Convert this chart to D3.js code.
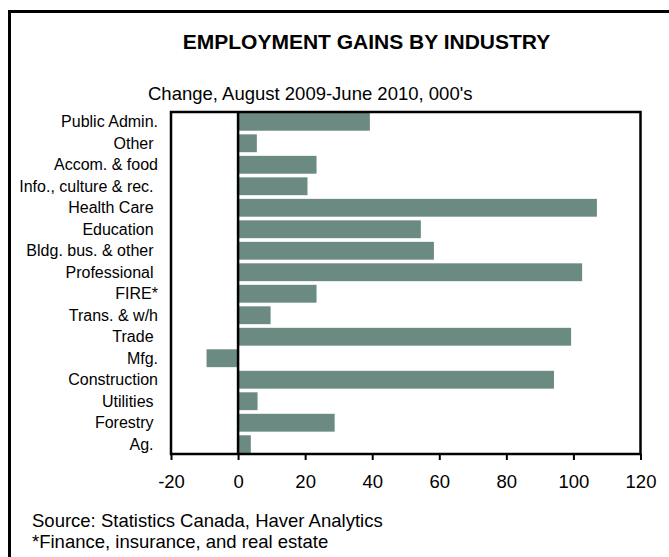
<meta charset="utf-8">
<script src="https://cdnjs.cloudflare.com/ajax/libs/d3/7.8.5/d3.min.js"></script>
<style>
body {margin: 0; background: #fff;}
* {font-family: "Liberation Sans", Arial;}
</style>
<div id="chart"></div>
<script type="text/javascript">
// chart data
var categories = ["Public Admin.", "Other ", "Accom. & food", "Info., culture & rec. ", "Health Care ", "Education ",
	"Bldg. bus. & other ", "Professional ", "FIRE*", "Trans. & w/h", "Trade ", "Mfg.", "Construction",
	"Utilities ", "Forestry ", "Ag. "];
var values = [39.3, 5.6, 23.4, 20.7, 107, 54.5, 58.4, 102.6, 23.4, 9.7, 99.3, -9.4, 94.2, 5.8, 28.8, 3.8];
var xTicks = [-20, 0, 20, 40, 60, 80, 100, 120];

var width = 669;
var height = 557;
var plotLeft = 171, plotRight = 640.5, plotTop = 112, plotBottom = 454;

var svg = d3.select("#chart").append("svg")
	.attr("width", width)
	.attr("height", height);

// outer frame
svg.append("rect")
	.attr("x", 9.5)
	.attr("y", 11.5)
	.attr("width", 700)
	.attr("height", 600)
	.attr("fill", "none")
	.attr("stroke", "#000")
	.attr("stroke-width", 3);

svg.append("text")
	.attr("x", 366.5)
	.attr("y", 49)
	.attr("text-anchor", "middle")
	.attr("font-size", 21)
	.attr("font-weight", "bold")
	.text("EMPLOYMENT GAINS BY INDUSTRY");

svg.append("text")
	.attr("x", 148)
	.attr("y", 100)
	.attr("font-size", 18.5)
	.text("Change, August 2009-June 2010, 000's");

var x = d3.scaleLinear().domain([-20, 120]).range([plotLeft, plotRight]);
var y = d3.scaleBand().domain(categories).range([plotTop, plotBottom]).paddingInner(0.17).paddingOuter(0.04);

svg.selectAll(".bar")
	.data(values)
	.enter().append("rect")
	.attr("class", "bar")
	.attr("x", function(d) { return x(Math.min(0, d)); })
	.attr("y", function(d, i) { return y(categories[i]); })
	.attr("width", function(d) { return Math.abs(x(d) - x(0)); })
	.attr("height", y.bandwidth())
	.attr("fill", "#6a8a82");

// category labels
svg.selectAll(".cat")
	.data(categories)
	.enter().append("text")
	.attr("class", "cat")
	.attr("x", 158)
	.attr("y", function(d) { return y(d) + y.bandwidth() / 2; })
	.attr("dy", "0.35em")
	.attr("text-anchor", "end")
	.attr("font-size", 16)
	.style("white-space", "pre")
	.text(function(d) { return d; });

// plot box
svg.append("rect")
	.attr("x", plotLeft)
	.attr("y", plotTop)
	.attr("width", plotRight - plotLeft)
	.attr("height", plotBottom - plotTop)
	.attr("fill", "none")
	.attr("stroke", "#000")
	.attr("stroke-width", 2.5);

svg.append("line")
	.attr("x1", x(0))
	.attr("x2", x(0))
	.attr("y1", plotTop)
	.attr("y2", plotBottom)
	.attr("stroke", "#000")
	.attr("stroke-width", 2.5);

var axis = svg.append("g")
	.attr("transform", "translate(0," + plotBottom + ")")
	.call(d3.axisBottom(x).tickValues(xTicks).tickSize(6).tickSizeOuter(0).tickPadding(15)
		.tickFormat(function(d) { return String(d); }));
axis.select(".domain").remove();
axis.selectAll("line").attr("stroke-width", 2);
axis.selectAll("text").attr("font-size", 18.5).attr("fill", "#000").style("font-family", "Liberation Sans, Arial");

svg.append("text")
	.attr("x", 32)
	.attr("y", 527)
	.attr("font-size", 18.5)
	.text("Source: Statistics Canada, Haver Analytics");

svg.append("text")
	.attr("x", 32)
	.attr("y", 548)
	.attr("font-size", 18.5)
	.text("*Finance, insurance, and real estate");
</script>
